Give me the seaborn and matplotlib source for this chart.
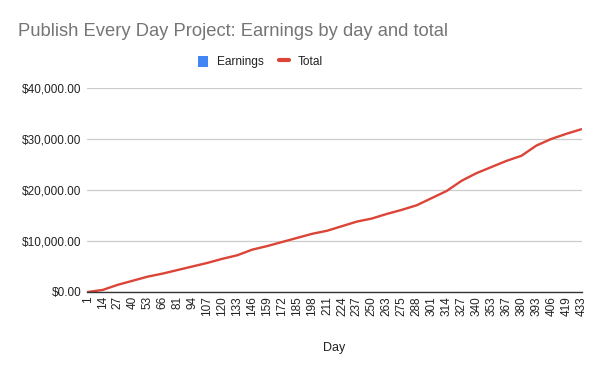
import matplotlib
matplotlib.use("Agg")
import matplotlib.pyplot as plt
import seaborn as sns
import pandas as pd
from matplotlib.ticker import FuncFormatter
from matplotlib.lines import Line2D
from matplotlib.patches import Patch

days = ["1", "14", "27", "40", "53", "66", "81", "94", "107", "120", "133", "146",
        "159", "172", "185", "198", "211", "224", "237", "250", "263", "275", "288",
        "301", "314", "327", "340", "353", "367", "380", "393", "406", "419", "433"]
total = [0, 400, 1400, 2200, 3000, 3600, 4300, 5000, 5700, 6500, 7200, 8300,
         9000, 9800, 10600, 11400, 12000, 12900, 13800, 14400, 15300, 16100, 17000,
         18400, 19800, 21800, 23300, 24500, 25700, 26700, 28700, 30000, 31000, 31900]
earnings = [0, 40, 80, 60, 60, 50, 50, 55, 55, 60, 55, 85, 55, 60, 60, 60, 50,
            70, 70, 50, 70, 60, 70, 110, 110, 150, 115, 90, 90, 80, 150, 100, 75, 70]

df = pd.DataFrame({"Day": days, "pos": range(len(days)),
                   "Earnings": earnings, "Total": total})

sns.set_theme(style="white")
plt.rcParams["font.family"] = ["Liberation Sans", "DejaVu Sans"]

fig = plt.figure(figsize=(6, 3.71), dpi=100)
ax = fig.add_axes([0.145, 0.213, 0.825, 0.55])

sns.barplot(data=df, x="Day", y="Earnings", color="#4285f4", width=0.15,
            ax=ax, saturation=1)
sns.lineplot(data=df, x="pos", y="Total", color="#db4437", linewidth=1.7, ax=ax)

ax.set_ylim(0, 40000)
ax.set_xlim(-0.05, 33.05)
ax.set_yticks([0, 10000, 20000, 30000, 40000])
ax.yaxis.set_major_formatter(FuncFormatter(lambda v, p: f"${v:,.2f}"))
ax.set_xticks(range(len(days)))
ax.set_xticklabels(days, rotation=90)
ax.grid(axis="y", color="#cccccc", linewidth=0.9)
ax.set_axisbelow(True)
for s in ["top", "right", "left"]:
    ax.spines[s].set_visible(False)
ax.spines["bottom"].set_color("#333333")
ax.spines["bottom"].set_linewidth(1.0)
ax.tick_params(axis="both", length=0, labelsize=8.5, colors="#222222", pad=4)
ax.tick_params(axis="x", pad=3)
ax.set_ylabel("")
ax.set_xlabel("Day", fontsize=9, color="#222222", labelpad=19)

fig.text(0.03, 0.914, "Publish Every Day Project: Earnings by day and total",
         fontsize=13.2, color="#757575", ha="left", va="center")

handles = [Patch(facecolor="#4285f4", edgecolor="none"),
           Line2D([0], [0], color="#db4437", linewidth=3)]
fig.legend(handles, ["Earnings", "Total"], loc="center", bbox_to_anchor=(0.434, 0.833),
           ncol=2, frameon=False, handlelength=0.85, handleheight=1.1,
           columnspacing=1.3, handletextpad=0.7, labelcolor="#222222",
           prop={"size": 8.6})

fig.savefig("out.png", dpi=100)
